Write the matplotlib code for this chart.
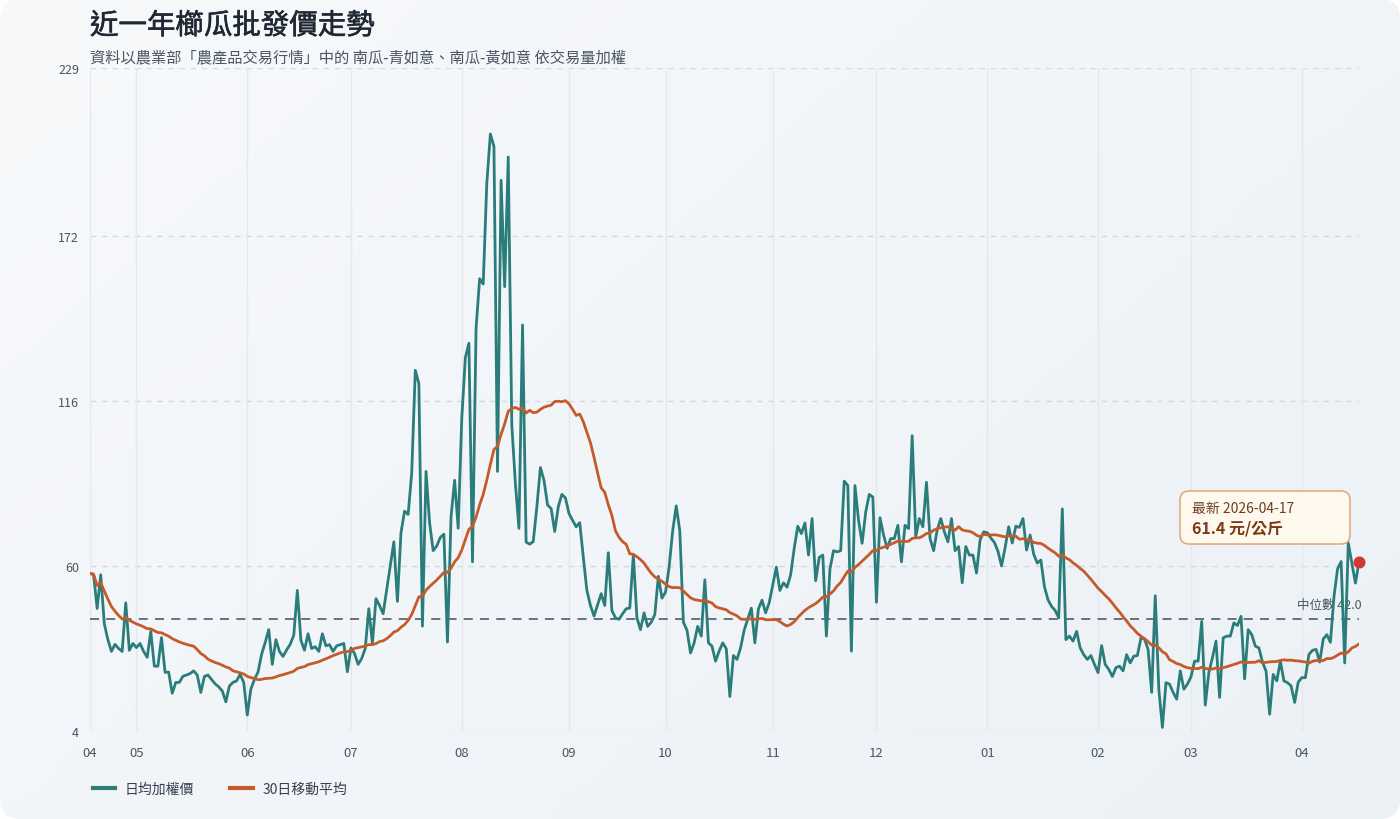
import matplotlib
matplotlib.use("Agg")
import matplotlib.pyplot as plt
from matplotlib.patches import FancyBboxPatch
from matplotlib.lines import Line2D
from matplotlib.transforms import IdentityTransform
from matplotlib.colors import LinearSegmentedColormap
import matplotlib.patheffects as pe
import numpy as np
import pandas as pd

plt.rcParams['font.family'] = ['Noto Sans CJK TC', 'DejaVu Sans']

# daily volume-weighted price (元/公斤), one list per month, trading days only
apr25 = [57.5, 57, 45.6, 57, 40.4, 35, 31, 33.4, 32, 31, 47.5, 31.4, 33.7]
may25 = [32.3, 33.7, 31, 29, 37.8, 26, 26, 35.7, 23.9, 24, 16.8, 20.5, 20.5, 22.6, 23, 23.5,
         24.4, 23, 17.1, 22.5, 23, 21.5, 20, 19, 17.6, 13.9, 19.3, 20.5, 21, 23.2, 20.5]
jun25 = [9.4, 18.2, 21.5, 24, 30, 34, 38.4, 26.6, 35, 31, 29.3, 31.5, 33.4, 36.5, 51.7, 34.8,
         31.4, 37, 32, 32.6, 31, 37, 32.9, 33.3, 31, 32.9, 33.3, 33.7, 24.1]
jul25 = [32.2, 30.3, 26.6, 28.6, 32, 45.5, 33.7, 48.9, 46.6, 43.8, 52, 60, 68.2, 48, 71.3, 78.6,
         77.5, 91.6, 126.4, 121.9, 39.6, 92.1, 74.7, 65.2, 66.8, 69.7, 70.8, 34.2, 76.7, 89.1, 72.8]
aug25 = [110, 130.7, 135.6, 61.4, 140.6, 157.5, 155.7, 189.8, 206.6, 202.4, 92.1, 190.9, 154.8,
         198.8, 107.8, 88, 72.8, 141.8, 68.1, 67.4, 68.3, 80, 93.4, 89.1, 80.7, 79.5, 71.7, 80.1,
         84.3, 83.1]
sep25 = [77.8, 75.5, 73.3, 74.7, 63, 51.7, 46.6, 43, 46.8, 50.6, 46.6, 64.5, 44.9, 42.4, 41.9,
         43.8, 45.5, 45.7, 63.7, 42.4, 38.4, 44.1, 39.5, 40.9, 43.5, 56.5, 49.1]
oct25 = [51.1, 59.6, 71.9, 80.4, 71.9, 40.9, 38.2, 30.5, 33.9, 39.5, 36.2, 55.3, 33.9, 32.8, 27.7,
         31.1, 33.9, 31.9, 15.7, 29.6, 28.3, 32.2, 38.2, 42, 45.7, 33.9, 45.5, 48.4, 44.1, 47.5]
nov25 = [53.5, 59.6, 51.7, 54.3, 52.8, 57, 66, 73.5, 71, 74.6, 63.7, 76.1, 55, 62.9, 63.7, 36.2,
         59, 65.2, 64.8, 65.2, 88.8, 87.3, 31.1, 87.3, 75.5, 67.7, 78.3, 84.3, 83.4]
dec25 = [47.7, 76.4, 70.5, 66, 69.3, 69.3, 73.8, 61.4, 73.8, 72.7, 104.2, 69.9, 76.1, 73.3, 88.4,
         69.3, 65.2, 72.2, 76.1, 71.6, 68.2, 76.1, 65.2, 66.6, 54.3, 66.6, 63.7, 63.7, 57.6, 68.8, 71.6]
jan26 = [71.3, 69.5, 68, 65, 60, 66.2, 73.3, 67.8, 73.5, 73.1, 76.1, 65.4, 70.5, 64, 61, 62, 53,
         48.5, 46.3, 44.9, 42.4, 79.4, 35, 36.2, 34.5, 37.8, 32.2, 29.9, 28.3, 29.6, 26.6]
feb26 = [23.8, 33, 26.6, 24.9, 22.5, 25.5, 26, 24.4, 29.9, 27.1, 29.4, 29.6, 35.6, 35.2, 31.7,
         17.1, 49.9, 18.2, 5.2, 20.4, 19.9, 17.1, 14.8, 24.4, 18.2, 19.9]
mar26 = [22.4, 27.7, 27.7, 41.2, 12.8, 23.8, 28.9, 34.5, 15.4, 35.6, 36.2, 36.2, 40.7, 39.8, 42.9,
         21.7, 38.4, 36.7, 32.8, 32.2, 27.4, 24.3, 9.7, 23.2, 21, 27.7, 21, 20.4, 19.3, 13.7, 20.6]
apr26 = [22.1, 22.1, 30, 31.4, 31.7, 27.4, 35.2, 36.7, 34.1, 49.6, 59, 61.5, 27.1, 67.8, 61, 54.2, 61.4]

month_labels = ["04", "05", "06", "07", "08", "09", "10", "11", "12", "01", "02", "03", "04"]
monthly = [apr25, may25, jun25, jul25, aug25, sep25, oct25, nov25, dec25, jan26, feb26, mar26, apr26]

ytick_values = [4, 60, 116, 172, 229]
median_price = 42.0
latest_date = "2026-04-17"

prices = np.concatenate([np.array(m, dtype=float) for m in monthly])
ma30 = pd.Series(prices).rolling(30, min_periods=1).mean().values
xs = np.arange(len(prices))
month_starts = np.cumsum([0] + [len(m) for m in monthly[:-1]])

teal = "#2a7d7a"
orange = "#c65a2b"
grey_txt = "#4b5563"

fig = plt.figure(figsize=(14, 8.2), dpi=100, facecolor="white")

# rounded card with a soft diagonal gradient
bg_ax = fig.add_axes([0, 0, 1, 1], zorder=-10)
bg_ax.set_axis_off()
gx, gy = np.meshgrid(np.linspace(0, 1, 200), np.linspace(0, 1, 120))
grad = (gx * 0.6 + gy * 0.4)
cmap = LinearSegmentedColormap.from_list("card", ["#f7f9fb", "#ecf1f6"])
im = bg_ax.imshow(grad, cmap=cmap, aspect="auto", extent=(0, 1, 0, 1), origin="upper")
card = FancyBboxPatch((0, 0), 1400, 820, boxstyle="round,pad=0,rounding_size=20",
                      transform=IdentityTransform(), facecolor="none", edgecolor="none")
im.set_clip_path(card)

ax = fig.add_axes([90 / 1400, 1 - 732 / 820, (1359 - 90) / 1400, (732 - 69) / 820])
ax.set_facecolor("none")
for s in ax.spines.values():
    s.set_visible(False)

ax.set_xlim(0, len(prices) - 1)
ax.set_ylim(ytick_values[0], ytick_values[-1])

# grid
for y in ytick_values:
    ax.axhline(y, color="#d3d9e1", lw=1, ls=(0, (4, 4)), zorder=0)
for x in month_starts:
    ax.axvline(x, color="#e4e8ed", lw=1, zorder=0)

ax.set_yticks(ytick_values)
ax.set_yticklabels([str(v) for v in ytick_values])
ax.set_xticks(month_starts)
ax.set_xticklabels(month_labels)
ax.tick_params(axis="y", length=0, pad=8, labelsize=9, labelcolor=grey_txt)
ax.tick_params(axis="x", length=0, pad=11, labelsize=9.5, labelcolor=grey_txt)

# median
ax.axhline(median_price, color="#5f6673", lw=1.3, ls=(0, (5, 4)), zorder=2)
ax.annotate(f"中位數 {median_price:.1f}", xy=(xs[-1], median_price), xytext=(3, 15),
            textcoords="offset pixels", ha="right", va="center", fontsize=9,
            color=grey_txt, zorder=1)

ax.plot(xs, prices, color=teal, lw=2.0, zorder=4, solid_joinstyle="round")
ax.plot(xs, ma30, color=orange, lw=2.0, zorder=5, solid_joinstyle="round")
ax.scatter([xs[-1]], [prices[-1]], s=75, color="#d23636", linewidth=0, zorder=6, clip_on=False)

# latest value callout
box = FancyBboxPatch((1180, 820 - 545), 170, 53, boxstyle="round,pad=0,rounding_size=9",
                     transform=IdentityTransform(), facecolor="#fff8ec", edgecolor="#d9a073",
                     linewidth=1, zorder=7)
fig.add_artist(box)
fig.text(1192 / 1400, 1 - 509 / 820, f"最新 {latest_date}", fontsize=10, color="#6b3d22",
         va="center", ha="left", zorder=8)
fig.text(1192 / 1400, 1 - 528 / 820, f"{prices[-1]:.1f} 元/公斤", fontsize=11.5,
         fontweight="bold", color="#7a3a17", va="center", ha="left", zorder=8)

# titles
fig.text(90 / 1400, 1 - 27 / 820, "近一年櫛瓜批發價走勢", fontsize=20.5, color="#1f2733",
         va="center", ha="left",
         path_effects=[pe.withStroke(linewidth=0.4, foreground="#1f2733")])
fig.text(90 / 1400, 1 - 58 / 820,
         "資料以農業部「農產品交易行情」中的 南瓜-青如意、南瓜-黃如意 依交易量加權",
         fontsize=11, color=grey_txt, va="center", ha="left")

handles = [Line2D([], [], color=teal, lw=3), Line2D([], [], color=orange, lw=3)]
fig.legend(handles, ["日均加權價", "30日移動平均"], loc="center left",
           bbox_to_anchor=(86 / 1400, 1 - 790 / 820), ncol=2, frameon=False, fontsize=10,
           handlelength=1.6, handletextpad=0.7, columnspacing=2.6, borderpad=0,
           labelcolor="#374151")

fig.savefig("out.png", dpi=100, facecolor=fig.get_facecolor())
